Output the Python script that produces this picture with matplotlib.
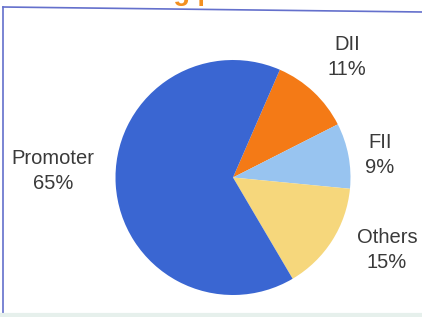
import matplotlib
matplotlib.use("Agg")
import matplotlib.pyplot as plt
from matplotlib.lines import Line2D

# Data
categories = ["DII", "FII", "Others", "Promoter"]
shares = [11, 9, 15, 65]
labels = ["DII\n11%", "FII\n9%", "Others\n15%", "Promoter\n65%"]
title = "Shareholding pattern"

# Styling
colors = ["#f47a16", "#98c4f0", "#f6d77c", "#3a66d2"]
W, H = 422, 317
center = (233, 139.5)
radius = 117.5
label_pos = [(347, 260), (380, 162), (387, 67), (53, 146)]

fig = plt.figure(figsize=(W / 100, H / 100), dpi=100)
fig.patch.set_facecolor("white")
ax = fig.add_axes([0, 0, 1, 1])
ax.set_xlim(0, W)
ax.set_ylim(0, H)
ax.axis("off")

ax.pie(shares, colors=colors, startangle=66.5, counterclock=False,
       center=center, radius=radius, frame=True,
       wedgeprops=dict(linewidth=0))
ax.set_xlim(0, W)
ax.set_ylim(0, H)
ax.set_aspect("equal", adjustable="box")
ax.axis("off")

for lab, (x, y) in zip(labels, label_pos):
    ax.text(x, y, lab, ha="center", va="center", fontsize=14.5,
            family="Liberation Sans", color="#3a3a3a", linespacing=1.45)

# Partially cut-off title at the top
fig.text(17 / W, 1 - 0.5 / H, title, ha="left", va="baseline",
         fontsize=19.5, fontweight="bold", family="Liberation Sans",
         color="#f39020")

# Frame lines
fig.add_artist(Line2D([3 / W, 1], [1 - 7 / H, 1 - 12 / H],
                      transform=fig.transFigure, color="#6470cc", lw=1.2))
fig.add_artist(Line2D([3 / W, 3 / W], [0, 1 - 7 / H],
                      transform=fig.transFigure, color="#6470cc", lw=1.2))
fig.add_artist(Line2D([0, 1], [2 / H, 2 / H],
                      transform=fig.transFigure, color="#e6f0ec", lw=3))

fig.savefig("out.png", dpi=100)
